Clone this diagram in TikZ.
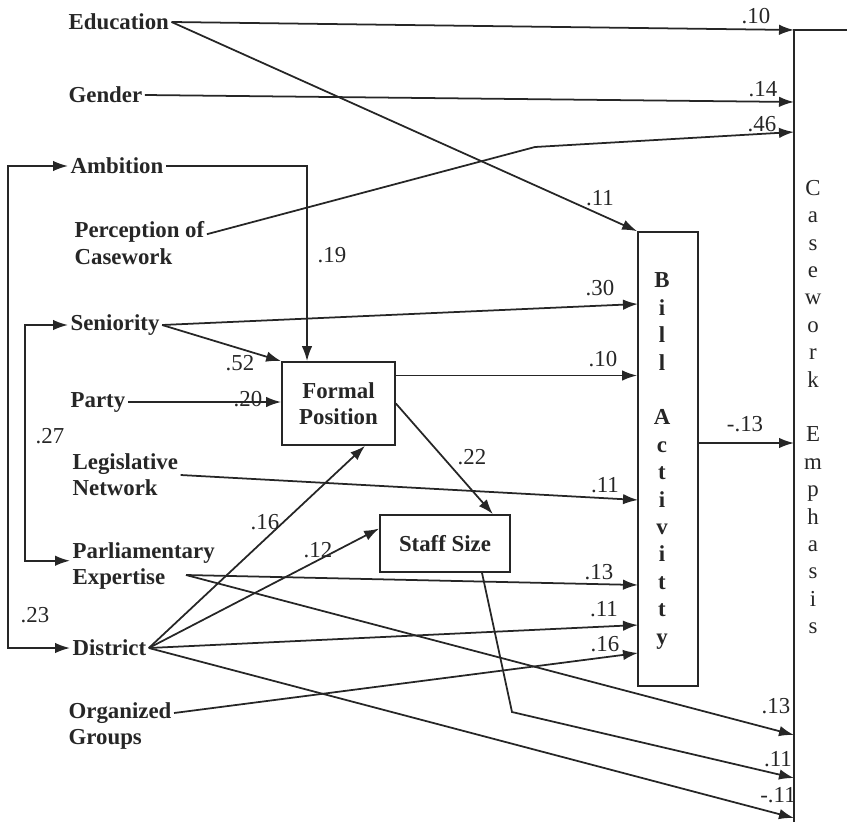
\documentclass[tikz,border=0pt]{standalone}
\usepackage{fontspec}
\setmainfont{Liberation Serif}
\usetikzlibrary{arrows.meta}

\tikzset{
  var/.style={anchor=west, inner sep=1pt, align=left, font=\bfseries\fontsize{13}{15}\selectfont},
  coef/.style={inner sep=0pt, font=\fontsize{13}{15}\selectfont},
  box/.style={draw, inner sep=0pt, align=center, font=\bfseries\fontsize{13}{15}\selectfont},
  arr/.style={-{Latex[length=3mm,width=2.1mm]}},
  arrs/.style={{Latex[length=3mm,width=2.1mm]}-{Latex[length=3mm,width=2.1mm]}},
}

\begin{document}
\begin{tikzpicture}[x=0.02cm, y=-0.02cm, line width=1pt, black!85]
   \useasboundingbox (0,0) rectangle (847,824);

   % variables
   \node[var] (edu) at (66,22) {Education};
   \node[var] (gen) at (66,95) {Gender};
   \node[var] (amb) at (68,166) {Ambition};
   \node[var] (perc) at (72,243) {Perception of\\Casework};
   \node[var] (sen) at (68,325) {Seniority};
   \node[var] (party) at (68,402) {Party};
   \node[var] (legis) at (70,475) {Legislative\\Network};
   \node[var] (parl) at (70,566) {Parliamentary\\Expertise};
   \node[var] (dist) at (70,648) {District};
   \node[var] (org) at (66,726) {Organized\\Groups};

   % boxes
   \node[box, minimum width=2.26cm, minimum height=1.66cm] (formal) at (338.5,403.5) {Formal\\Position};
   \node[box, minimum width=2.6cm, minimum height=1.14cm] (staff) at (445,543.5) {Staff Size};
   \node[box, minimum width=1.2cm, minimum height=9.08cm] (bill) at (668,459) {};
   \node[inner sep=0pt, align=center, font=\bfseries\fontsize{13}{15.6}\selectfont] (billtxt) at (662,461)
      {B\\i\\l\\l\\ \\A\\c\\t\\i\\v\\i\\t\\t\\y};

   % casework emphasis
   \node[inner sep=0pt, align=center, font=\fontsize{13}{15.6}\selectfont] (cwe) at (813,407)
      {C\\a\\s\\e\\w\\o\\r\\k\\ \\E\\m\\p\\h\\a\\s\\i\\s};
   \draw (847,30) -- (794,30) -- (794,822);
   \coordinate (ce-edu) at (794,30);
   \coordinate (ce-gen) at (794,102);
   \coordinate (ce-perc) at (794,132);
   \coordinate (ce-bill) at (794,443);
   \coordinate (ce-parl) at (794,735);
   \coordinate (ce-staff) at (794,778);
   \coordinate (ce-dist) at (794,818);

   % inputs of bill activity
   \coordinate (bi-sen) at (638,304);
   \coordinate (bi-legis) at (638,500);
   \coordinate (bi-parl) at (638,585);
   \coordinate (bi-dist) at (638,625);
   \coordinate (bi-org) at (638,653);

   \coordinate (fb-out) at (8,0);
   \coordinate (fb-in) at (25,0);
   \coordinate (fp-out) at ([yshift=0.56cm]formal.east);
   \coordinate (parl-out) at (186,575);
   \coordinate (perc-bend) at (535,147);
   \coordinate (staff-bend) at (512,712);

   % paths
   \draw[arr] (edu.east) -- (ce-edu);
   \draw[arr] (edu.east) -- (bill.north west);
   \draw[arr] (gen.east) -- (ce-gen);
   \draw[arr] ([yshift=5pt]perc.east) -- (perc-bend) -- (ce-perc);
   \draw[arr] (amb.east) -| ([xshift=-0.63cm]formal.north);
   \draw[arr] (sen.east) -- (bi-sen);
   \draw[arr] (sen.east) -- (formal.north west);
   \draw[arr] (party.east) -- (party.east -| formal.west);
   \draw[arr] (fp-out) -- (fp-out -| bill.west);
   \draw[arr] (formal.east) -- ([xshift=-0.36cm]staff.north east);
   \draw[arr] (legis.east) -- (bi-legis);
   \draw[arr] (parl-out) -- (bi-parl);
   \draw[arr] (parl-out) -- (ce-parl);
   \draw[arr] (dist.east) -- ([xshift=0.53cm]formal.south);
   \draw[arr] (dist.east) -- ([yshift=0.3cm]staff.west);
   \draw[arr] (dist.east) -- (bi-dist);
   \draw[arr] (dist.east) -- (ce-dist);
   \draw[arr] ([yshift=0.26cm]org.east) -- (bi-org);
   \draw[arr] ([xshift=0.74cm]staff.south) -- (staff-bend) -- (ce-staff);
   \draw[arr] ([yshift=0.32cm]bill.east) -- (ce-bill);

   % correlations
   \draw[arrs] (amb.west) -- (amb.west -| fb-out) -- (dist.west -| fb-out) -- (dist.west);
   \draw[arrs] (sen.west) -- (sen.west -| fb-in) -- ([yshift=3pt]parl.west -| fb-in) -- ([yshift=3pt]parl.west);

   % coefficients
   \node[coef] (k-edu-ce) at (756,16) {.10};
   \node[coef] (k-gen-ce) at (763,89) {.14};
   \node[coef] (k-perc-ce) at (762,124) {.46};
   \node[coef] (k-edu-bill) at (600,198) {.11};
   \node[coef] (k-amb-fp) at (332,255) {.19};
   \node[coef] (k-sen-bill) at (600,288) {.30};
   \node[coef] (k-sen-fp) at (240,363) {.52};
   \node[coef] (k-party-fp) at (248,399) {.20};
   \node[coef] (k-fp-bill) at (603,359) {.10};
   \node[coef] (k-fp-staff) at (472,457) {.22};
   \node[coef] (k-sen-parl) at (50,436) {.27};
   \node[coef] (k-legis-bill) at (605,485) {.11};
   \node[coef] (k-dist-fp) at (265,522) {.16};
   \node[coef] (k-dist-staff) at (318,550) {.12};
   \node[coef] (k-parl-bill) at (599,572) {.13};
   \node[coef] (k-dist-bill) at (604,609) {.11};
   \node[coef] (k-amb-dist) at (35,615) {.23};
   \node[coef] (k-org-bill) at (605,644) {.16};
   \node[coef] (k-bill-ce) at (745,424) {-.13};
   \node[coef] (k-parl-ce) at (776,706) {.13};
   \node[coef] (k-staff-ce) at (778,759) {.11};
   \node[coef] (k-dist-ce) at (778,795) {-.11};

\end{tikzpicture}
\end{document}
